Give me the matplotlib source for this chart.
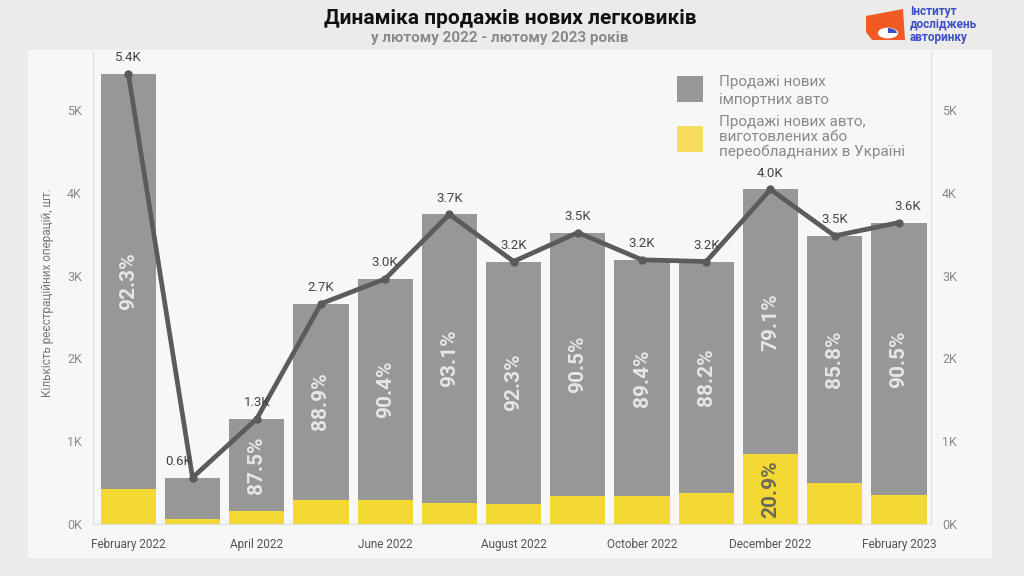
import matplotlib.pyplot as plt
from matplotlib.patches import Rectangle, Polygon, Circle, Wedge

months = ['February 2022', 'March 2022', 'April 2022', 'May 2022', 'June 2022',
          'July 2022', 'August 2022', 'September 2022', 'October 2022',
          'November 2022', 'December 2022', 'January 2023', 'February 2023']
totals = [5440, 560, 1270, 2660, 2960, 3740, 3170, 3520, 3190, 3170, 4040, 3480, 3640]
import_pct = [92.3, 89.5, 87.5, 88.9, 90.4, 93.1, 92.3, 90.5, 89.4, 88.2, 79.1, 85.8, 90.5]
show_pct = [True, False, True, True, True, True, True, True, True, True, True, True, True]
total_labels = ['5.4K', '0.6K', '1.3K', '2.7K', '3.0K', '3.7K', '3.2K', '3.5K',
                '3.2K', '3.2K', '4.0K', '3.5K', '3.6K']
tick_idx = [0, 2, 4, 6, 8, 10, 12]

imported = [t * p / 100 for t, p in zip(totals, import_pct)]
domestic = [t - i for t, i in zip(totals, imported)]

GRAY = '#979797'
YELLOW = '#f4d834'
LINE = '#5b5b5b'

plt.rcParams['font.family'] = ['Roboto', 'DejaVu Sans']

fig = plt.figure(figsize=(10.24, 5.76), dpi=100, facecolor='#ebebeb')


def fx(px):
    return px / 1024


def fy(py):
    return 1 - py / 576


# white-ish panel behind the chart
fig.patches.append(Rectangle((fx(28), fy(558)), fx(964), 508 / 576,
                             transform=fig.transFigure, facecolor='#f7f7f7',
                             edgecolor='none', zorder=-5))

ax = fig.add_axes([fx(93), 52 / 576, fx(838), 472 / 576])
ax.set_facecolor('none')
x = list(range(len(months)))

ax.bar(x, domestic, width=0.86, color=YELLOW, zorder=2)
ax.bar(x, imported, width=0.86, bottom=domestic, color=GRAY, zorder=2)
ax.plot(x, totals, color=LINE, lw=3.4, marker='o', ms=5, zorder=4)

for i in x:
    if show_pct[i]:
        ax.text(i, domestic[i] + imported[i] / 2, f'{import_pct[i]:.1f}%',
                rotation=90, ha='center', va='center', color='#e6e6e6',
                fontsize=15, fontweight='bold', zorder=3)
    dx = -10 if i == 1 else (6 if i == len(x) - 1 else 0)
    ax.annotate(total_labels[i], (i, totals[i]), xytext=(dx, 7),
                textcoords='offset points', ha='center', va='bottom',
                fontsize=9.5, color='#444444', zorder=5)

# domestic share label for December
dec = 10
ax.text(dec, domestic[dec] / 2, f'{100 - import_pct[dec]:.1f}%', rotation=90,
        ha='center', va='center', color='#6b6b5a', fontsize=15,
        fontweight='bold', zorder=3)

ax.set_xlim(-0.55, 12.5)
ax.set_ylim(0, 5700)
yt = [0, 1000, 2000, 3000, 4000, 5000]
ax.set_yticks(yt)
ax.set_yticklabels([f'{v // 1000}K' for v in yt], color='#8a8a8a', fontsize=9)
ax.set_xticks(tick_idx)
ax.set_xticklabels([months[i] for i in tick_idx], color='#555555', fontsize=8.5)
ax.tick_params(length=0, pad=8)
ax.tick_params(axis='x', pad=10)

ax2 = ax.twinx()
ax2.set_ylim(ax.get_ylim())
ax2.set_yticks(yt)
ax2.set_yticklabels([f'{v // 1000}K' for v in yt], color='#8a8a8a', fontsize=9)
ax2.tick_params(length=0, pad=8)

for a in (ax, ax2):
    a.spines['top'].set_visible(False)
    a.spines['left'].set_color('#dedede')
    a.spines['right'].set_color('#dedede')
    a.spines['bottom'].set_color('#e2e2e2')

ax.set_ylabel('Кількість реєстраційних операцій, шт.', color='#777777',
              fontsize=8.5)
ax.yaxis.set_label_coords(-0.046, 0.49)

# legend drawn by hand
fig.patches.append(Rectangle((fx(677), fy(102)), fx(26), 26 / 576,
                             transform=fig.transFigure, facecolor=GRAY,
                             edgecolor='none'))
fig.patches.append(Rectangle((fx(677), fy(152)), fx(26), 26 / 576,
                             transform=fig.transFigure, facecolor=YELLOW,
                             edgecolor='none', alpha=0.8))
fig.text(fx(719), fy(91), 'Продажі нових\nімпортних авто', ha='left',
         va='center', fontsize=11, color='#8a8a8a', linespacing=1.3)
fig.text(fx(719), fy(137), 'Продажі нових авто,\nвиготовлених або\nпереобладнаних в Україні',
         ha='left', va='center', fontsize=11, color='#8a8a8a', linespacing=1.1)

fig.text(fx(510), fy(18), 'Динаміка продажів нових легковиків',
         ha='center', va='center', fontsize=15, fontweight='bold', color='#111111')
fig.text(fx(500), fy(38), 'у лютому 2022 - лютому 2023 років',
         ha='center', va='center', fontsize=11, fontweight='bold', color='#8a8a8a')

# logo
fig.patches.append(Polygon([(fx(866), fy(16)), (fx(903), fy(9)),
                            (fx(905), fy(40)), (fx(872), fy(40)),
                            (fx(866), fy(32))],
                           closed=True, transform=fig.transFigure,
                           facecolor='#f15a22', edgecolor='none'))
fig.patches.append(Circle((fx(888), fy(33)), 6 / 576, transform=fig.transFigure,
                          facecolor='white', edgecolor='#f15a22', lw=0.8))
fig.patches.append(Wedge((fx(888), fy(33)), 5 / 576, 0, 90, transform=fig.transFigure,
                         facecolor='#3d4fc4', edgecolor='none'))
fig.text(fx(910), fy(24), 'Інститут\nдосліджень\nавторинку',
         ha='left', va='center', fontsize=8.5, fontweight='bold',
         color='#3d4fc4', linespacing=1.0)

fig.savefig('out.png', dpi=100, facecolor=fig.get_facecolor())
